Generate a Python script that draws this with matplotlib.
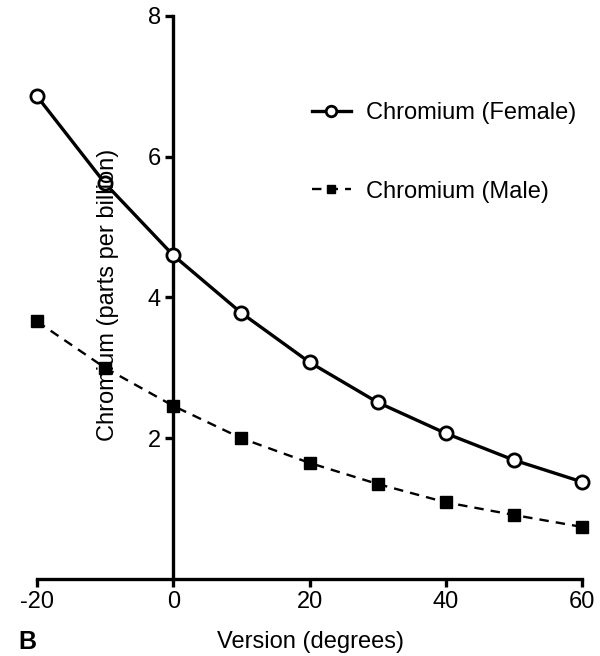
import matplotlib
matplotlib.use("Agg")
import matplotlib.pyplot as plt

plt.rcParams['font.family'] = ['Liberation Sans', 'DejaVu Sans']
plt.rcParams['axes.unicode_minus'] = False

version = [-20, -10, 0, 10, 20, 30, 40, 50, 60]
female = [6.86, 5.62, 4.60, 3.78, 3.08, 2.51, 2.07, 1.69, 1.38]
male = [3.66, 3.00, 2.46, 2.00, 1.65, 1.35, 1.09, 0.91, 0.74]
xticks = [-20, 0, 20, 40, 60]
yticks = [2, 4, 6, 8]

fig = plt.figure(figsize=(6.0, 6.56), dpi=100)
ax = fig.add_axes([37/600, 1-579/656, (582-37)/600, (579-16)/656])

ax.plot(version, female, '-', color='black', lw=2.4, marker='o', ms=9.5,
        mfc='white', mec='black', mew=2.0, clip_on=False, zorder=3,
        label='Chromium (Female)')
ax.plot(version, male, color='black', lw=1.7, ls=(0, (4, 3)), marker='s', ms=8,
        mfc='black', mec='black', clip_on=False, zorder=3,
        label='Chromium (Male)')

ax.set_xlim(-20, 60)
ax.set_ylim(0, 8)
ax.set_xticks(xticks)
ax.set_yticks(yticks)
ax.spines['left'].set_position(('data', 0))
ax.spines['top'].set_visible(False)
ax.spines['right'].set_visible(False)
for s in ('left', 'bottom'):
    ax.spines[s].set_linewidth(2.4)
    ax.spines[s].set_zorder(2)
ax.tick_params(direction='out', length=6, width=2.4, labelsize=17, pad=3)
ax.patch.set_visible(False)

leg = ax.legend(loc='upper left', bbox_to_anchor=(312/600, 1-102/656),
                bbox_transform=fig.transFigure, frameon=False, fontsize=17,
                borderpad=0, borderaxespad=0, labelspacing=2.4,
                handlelength=1.65, handletextpad=0.65, markerscale=0.8)

fig.text(108/600, 1-295/656, 'Chromium (parts per billion)', rotation=90,
         ha='center', va='center', fontsize=17)
fig.text(310/600, 1-642/656, 'Version (degrees)', ha='center', va='center', fontsize=17)
fig.text(18/600, 1-642/656, 'B', ha='left', va='center', fontsize=18, fontweight='bold')

fig.savefig('out.png', dpi=100)
